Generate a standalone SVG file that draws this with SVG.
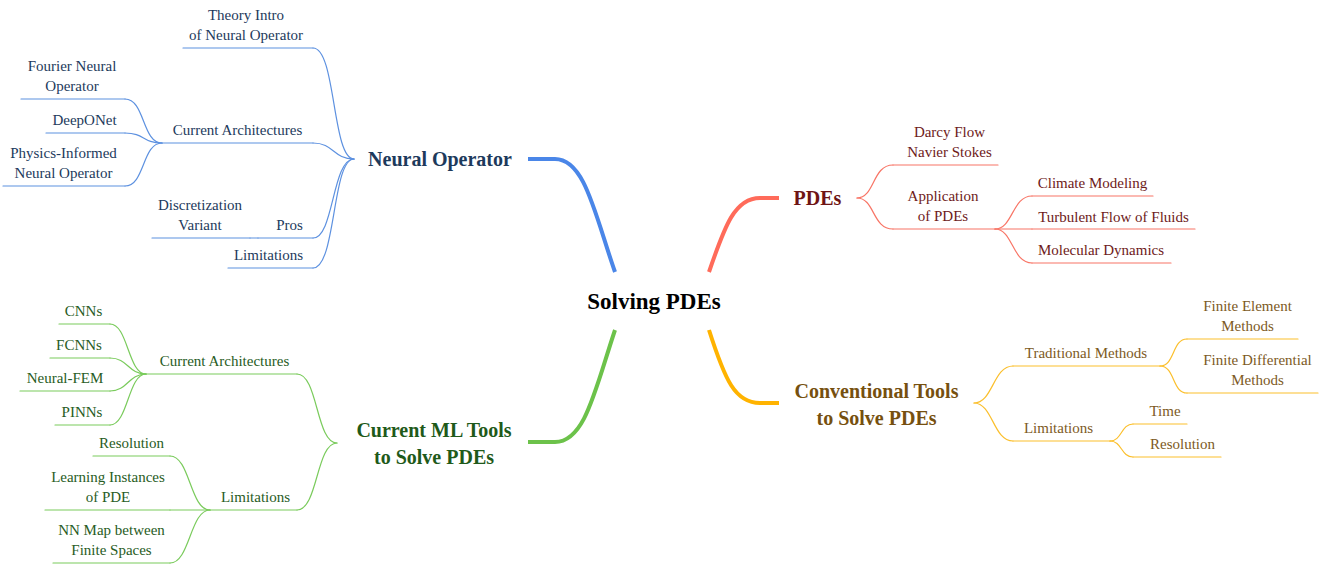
<svg xmlns="http://www.w3.org/2000/svg" width="1326" height="566" viewBox="0 0 1326 566">
<style>
text{font-family:"Liberation Serif","Times New Roman",serif;font-size:15px;text-anchor:middle}
.main{font-weight:bold;font-size:20px}
.root{font-weight:bold;font-size:23px;fill:#000}
.tb{fill:#1d3a5c}.tr{fill:#6e1a1a}.ty{fill:#7d5a1e}.tg{fill:#285c24}
.my{fill:#76500f}.mg{fill:#1f5a1a}.mb{fill:#1d3a5c}.mr{fill:#6e1414}
path,line{fill:none;stroke-linecap:round}
.lb{stroke:#5d91e0;stroke-width:1.2}
.lr{stroke:#f87566;stroke-width:1.2}
.ly{stroke:#fbbf2c;stroke-width:1.2}
.lg{stroke:#7acb5c;stroke-width:1.2}
.thick{stroke-width:4;stroke-linecap:butt}
</style>
<rect width="1326" height="566" fill="#fff"/>
<g id="connectors">
<path class="thick" stroke="#4a86e8" d="M615,272 C595,215 585,159 555,159 H528"/>
<path class="thick" stroke="#ff6b5a" d="M709,272 C725,225 735,198 760,198 H779"/>
<path class="thick" stroke="#6cc24a" d="M615,330 C595,390 585,442 555,442 H528"/>
<path class="thick" stroke="#ffb300" d="M709,330 C725,380 735,403 760,403 H779"/>
<path class="lb" d="M313,48 C336,48 332,159 354,159"/>
<path class="lb" d="M313,143 C334,143 333,159 354,159"/>
<path class="lb" d="M313,238 C334,238 332,159 354,159"/>
<path class="lb" d="M313,268 C336,268 332,159 354,159"/>
<path class="lb" d="M125,99 C145,99 142,143 162,143"/>
<path class="lb" d="M125,133 C145,133 142,143 162,143"/>
<path class="lb" d="M125,186 C145,186 142,143 162,143"/>
<path class="lb" d="M250,238 H258"/>
<path class="lr" d="M857,198 C875,198 872,165 893,165"/>
<path class="lr" d="M857,198 C875,198 872,229 893,229"/>
<path class="lr" d="M995,229 C1013,229 1012,196 1032,196"/>
<path class="lr" d="M995,229 H1032"/>
<path class="lr" d="M995,229 C1013,229 1012,263 1032,263"/>
<path class="ly" d="M974,403 C993,403 993,366 1013,366"/>
<path class="ly" d="M974,403 C993,403 993,441 1013,441"/>
<path class="ly" d="M1160,366 C1175,366 1172,339 1187,339"/>
<path class="ly" d="M1160,366 C1175,366 1172,393 1187,393"/>
<path class="ly" d="M1110,441 C1122,441 1121,424 1133,424"/>
<path class="ly" d="M1110,441 C1122,441 1121,457 1133,457"/>
<path class="lg" d="M297,374 C318,374 316,443 337,443"/>
<path class="lg" d="M297,510 C318,510 316,443 337,443"/>
<path class="lg" d="M110,324 C128,324 128,374 146,374"/>
<path class="lg" d="M110,358 C128,358 128,374 146,374"/>
<path class="lg" d="M110,391 C128,391 128,374 146,374"/>
<path class="lg" d="M110,425 C128,425 128,374 146,374"/>
<path class="lg" d="M170,456 C190,456 190,510 210,510"/>
<path class="lg" d="M170,510 H210"/>
<path class="lg" d="M170,563 C190,563 190,510 210,510"/>
</g>
<g id="root"><text class="root" x="654" y="309">Solving PDEs</text></g>
<g id="neural-operator"><text class="main mb" x="440" y="166">Neural Operator</text></g>
<g id="no-theory"><line class="lb" x1="183" y1="48" x2="313" y2="48"/><text class="tb" x="246" y="20">Theory Intro</text><text class="tb" x="246" y="40">of Neural Operator</text></g>
<g id="no-arch"><line class="lb" x1="162" y1="143" x2="313" y2="143"/><text class="tb" x="237.5" y="135">Current Architectures</text></g>
<g id="no-fno"><line class="lb" x1="21" y1="99" x2="125" y2="99"/><text class="tb" x="72" y="71">Fourier Neural</text><text class="tb" x="72" y="91">Operator</text></g>
<g id="no-deeponet"><line class="lb" x1="46" y1="133" x2="125" y2="133"/><text class="tb" x="84.5" y="125">DeepONet</text></g>
<g id="no-pino"><line class="lb" x1="3" y1="186" x2="125" y2="186"/><text class="tb" x="63.5" y="158">Physics-Informed</text><text class="tb" x="63.5" y="178">Neural Operator</text></g>
<g id="no-pros"><line class="lb" x1="258" y1="238" x2="313" y2="238"/><text class="tb" x="289.5" y="230">Pros</text></g>
<g id="no-discr"><line class="lb" x1="152" y1="238" x2="250" y2="238"/><text class="tb" x="200" y="210">Discretization</text><text class="tb" x="200" y="230">Variant</text></g>
<g id="no-limit"><line class="lb" x1="228" y1="268" x2="313" y2="268"/><text class="tb" x="268.5" y="260">Limitations</text></g>
<g id="pdes"><text class="main mr" x="817.5" y="205">PDEs</text></g>
<g id="pdes-darcy"><line class="lr" x1="893" y1="165" x2="998" y2="165"/><text class="tr" x="949.5" y="137">Darcy Flow</text><text class="tr" x="949.5" y="157">Navier Stokes</text></g>
<g id="pdes-app"><line class="lr" x1="893" y1="229" x2="995" y2="229"/><text class="tr" x="943" y="201">Application</text><text class="tr" x="943" y="221">of PDEs</text></g>
<g id="pdes-climate"><line class="lr" x1="1032" y1="196" x2="1153" y2="196"/><text class="tr" x="1092.5" y="188">Climate Modeling</text></g>
<g id="pdes-turb"><line class="lr" x1="1032" y1="229" x2="1195" y2="229"/><text class="tr" x="1113.5" y="222">Turbulent Flow of Fluids</text></g>
<g id="pdes-mol"><line class="lr" x1="1032" y1="263" x2="1171" y2="263"/><text class="tr" x="1101" y="255">Molecular Dynamics</text></g>
<g id="conv"><text class="main my" x="876.5" y="398">Conventional Tools</text><text class="main my" x="876.5" y="425">to Solve PDEs</text></g>
<g id="conv-trad"><line class="ly" x1="1013" y1="366" x2="1160" y2="366"/><text class="ty" x="1086" y="358">Traditional Methods</text></g>
<g id="conv-limit"><line class="ly" x1="1013" y1="441" x2="1110" y2="441"/><text class="ty" x="1058.5" y="433">Limitations</text></g>
<g id="conv-fem"><line class="ly" x1="1187" y1="339" x2="1298" y2="339"/><text class="ty" x="1247.5" y="311">Finite Element</text><text class="ty" x="1247.5" y="331">Methods</text></g>
<g id="conv-fdm"><line class="ly" x1="1187" y1="393" x2="1318" y2="393"/><text class="ty" x="1257.5" y="365">Finite Differential</text><text class="ty" x="1257.5" y="385">Methods</text></g>
<g id="conv-time"><line class="ly" x1="1133" y1="424" x2="1187" y2="424"/><text class="ty" x="1165" y="416">Time</text></g>
<g id="conv-res"><line class="ly" x1="1133" y1="457" x2="1221" y2="457"/><text class="ty" x="1182.5" y="449">Resolution</text></g>
<g id="ml"><text class="main mg" x="434" y="437">Current ML Tools</text><text class="main mg" x="434" y="464">to Solve PDEs</text></g>
<g id="ml-arch"><line class="lg" x1="146" y1="374" x2="297" y2="374"/><text class="tg" x="224.5" y="366">Current Architectures</text></g>
<g id="ml-limit"><line class="lg" x1="210" y1="510" x2="297" y2="510"/><text class="tg" x="255.5" y="502">Limitations</text></g>
<g id="ml-cnn"><line class="lg" x1="59" y1="324" x2="110" y2="324"/><text class="tg" x="83.5" y="316">CNNs</text></g>
<g id="ml-fcnn"><line class="lg" x1="50" y1="358" x2="110" y2="358"/><text class="tg" x="79" y="350">FCNNs</text></g>
<g id="ml-nfem"><line class="lg" x1="20" y1="391" x2="110" y2="391"/><text class="tg" x="65" y="383">Neural-FEM</text></g>
<g id="ml-pinn"><line class="lg" x1="55" y1="425" x2="110" y2="425"/><text class="tg" x="82" y="417">PINNs</text></g>
<g id="ml-res"><line class="lg" x1="93" y1="456" x2="170" y2="456"/><text class="tg" x="131.5" y="448">Resolution</text></g>
<g id="ml-learn"><line class="lg" x1="45" y1="510" x2="170" y2="510"/><text class="tg" x="108" y="482">Learning Instances</text><text class="tg" x="108" y="502">of PDE</text></g>
<g id="ml-nnmap"><line class="lg" x1="53" y1="563" x2="170" y2="563"/><text class="tg" x="111.5" y="535">NN Map between</text><text class="tg" x="111.5" y="555">Finite Spaces</text></g>
</svg>
